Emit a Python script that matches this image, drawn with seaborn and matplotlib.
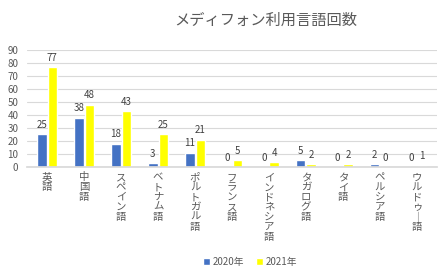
import pandas as pd
import matplotlib.pyplot as plt
import seaborn as sns

languages = ['英語', '中国語', 'スペイン語', 'ベトナム語', 'ポルトガル語', 'フランス語',
             'インドネシア語', 'タガログ語', 'タイ語', 'ペルシア語', 'ウルドゥー語']
count_2020 = [25, 38, 18, 3, 11, 0, 0, 5, 0, 2, 0]
count_2021 = [77, 48, 43, 25, 21, 5, 4, 2, 2, 0, 1]
years = ['2020年', '2021年']

df = pd.DataFrame({
    'lang': languages * 2,
    'year': [years[0]] * len(languages) + [years[1]] * len(languages),
    'count': count_2020 + count_2021,
})

sns.set_theme(style='white')
plt.rcParams['font.family'] = ['Noto Sans CJK JP', 'DejaVu Sans']

fig = plt.figure(figsize=(4.47, 2.75), dpi=100)
ax = fig.add_axes([0.06, 0.393, 0.918, 0.425])

sns.barplot(data=df, x='lang', y='count', hue='year', ax=ax,
            palette=['#4472C4', '#FFFF00'], width=0.56, gap=0.1,
            saturation=1, legend=True)

for c in ax.containers:
    ax.bar_label(c, fmt='%d', fontsize=7, color='#404040', padding=3)

ax.set_ylim(0, 90)
ax.set_yticks(range(0, 91, 10))
ax.yaxis.grid(True, color='#D9D9D9', linewidth=0.8)
ax.set_axisbelow(True)
for s in ['top', 'right', 'left']:
    ax.spines[s].set_visible(False)
ax.spines['bottom'].set_color('#D9D9D9')
ax.tick_params(axis='y', labelsize=7, colors='#595959', length=0, pad=6)
ax.tick_params(axis='x', length=0, pad=4)
ax.set_xticks(range(len(languages)))
# stacked vertical labels; long vowel mark becomes a vertical bar
vertical = ['\n'.join(l.replace('ー', '｜')) for l in languages]
ax.set_xticklabels(vertical, fontsize=7.5, color='#595959', linespacing=0.98, va='top')
ax.set_xlabel('')
ax.set_ylabel('')
ax.set_xlim(-0.55, len(languages) - 0.45)

fig.text(0.595, 0.925, 'メディフォン利用言語回数', ha='center', va='center',
         fontsize=11, color='#595959')

ax.legend(loc='center', bbox_to_anchor=(0.56, 0.047), bbox_transform=fig.transFigure,
          ncol=2, frameon=False, fontsize=7, handlelength=0.7, handleheight=0.7,
          handletextpad=0.3, columnspacing=1.2, labelcolor='#595959')

fig.savefig('out.png', dpi=100)
